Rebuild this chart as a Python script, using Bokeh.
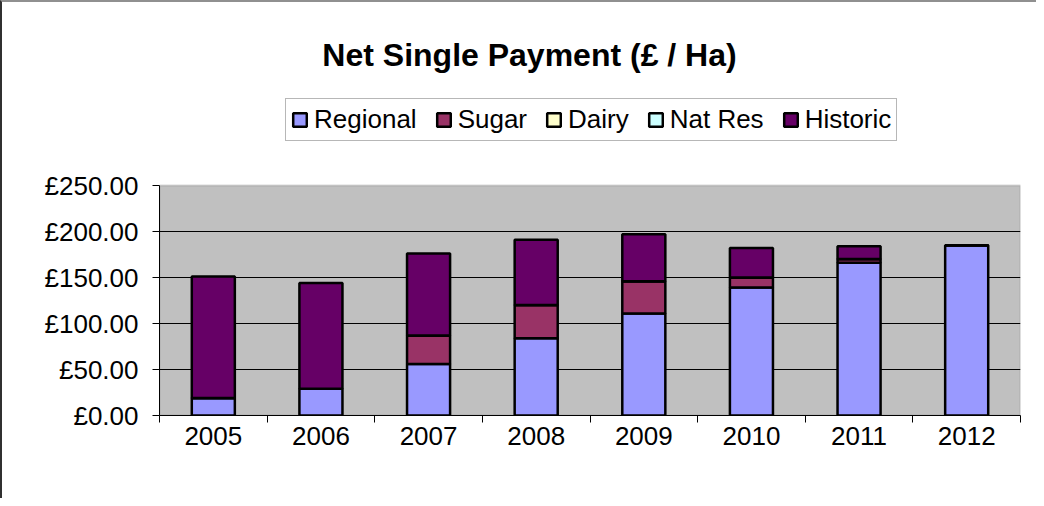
from bokeh.plotting import figure
from bokeh.models import (ColumnDataSource, FixedTicker, PrintfTickFormatter,
                          Range1d, Label, Legend, BoxAnnotation)
from bokeh.embed import file_html
from bokeh.resources import INLINE

years = ["2005", "2006", "2007", "2008", "2009", "2010", "2011", "2012"]
regional = [19, 29, 56, 84, 111, 139, 166, 185]
sugar = [0, 0, 31, 36, 35, 11, 4, 0]
dairy = [0, 0, 0, 0, 0, 0, 0, 0]
nat_res = [0, 0, 0, 0, 0, 0, 0, 0]
historic = [132, 115, 89, 71, 51, 32, 14, 0]
y_ticks = [0, 50, 100, 150, 200, 250]

series = ["Regional", "Sugar", "Dairy", "Nat Res", "Historic"]
colors = ["#9999FF", "#993366", "#FFFFCC", "#CCFFFF", "#660066"]

centers = [i + 0.5 for i in range(len(years))]
bounds = list(range(len(years) + 1))
y_max = y_ticks[-1]

src = ColumnDataSource(dict(x=centers, Regional=regional, Sugar=sugar,
                            Dairy=dairy, **{"Nat Res": nat_res}, Historic=historic))

FONT = "Liberation Sans"

# plot-area: 230 px for 250 units; frame extends up to canvas top (413 px tall)
FRAME_H = 413
y_top = y_max * FRAME_H / 230.0

p = figure(width=1036, height=498, output_backend="svg", toolbar_location=None,
           x_range=Range1d(0, len(years)), y_range=Range1d(0, y_top),
           min_border_left=157, min_border_right=18, min_border_top=0,
           min_border_bottom=498 - FRAME_H, background_fill_color="white",
           border_fill_color="white", title=None)
p.styles = {"border-left": "2px solid #303030", "border-top": "2px solid #909090"}
p.outline_line_color = None

# grey plot area
area = BoxAnnotation(bottom=0, top=y_max, fill_color="#C0C0C0", fill_alpha=1,
                     line_color="#808080", line_width=2, level="image")
p.add_layout(area)

renderers = p.vbar_stack(series, x="x", width=0.4, source=src, color=colors,
                         line_color="black", line_width=2.5)

# axes
xa = p.xaxis[0]
xa.ticker = FixedTicker(ticks=centers, minor_ticks=bounds)
xa.major_label_overrides = {c: y for c, y in zip(centers, years)}
xa.major_tick_out = 0
xa.major_tick_in = 0
xa.minor_tick_out = 7
xa.minor_tick_in = 0
xa.minor_tick_line_color = "black"
xa.axis_line_color = "black"
xa.major_label_text_font = FONT
xa.major_label_text_font_size = "26px"
xa.major_label_text_color = "black"
xa.major_label_standoff = 4

ya = p.yaxis[0]
ya.ticker = FixedTicker(ticks=y_ticks)
ya.bounds = (0, y_max)
ya.formatter = PrintfTickFormatter(format="£%.2f")
ya.major_tick_out = 7
ya.major_tick_in = 0
ya.minor_tick_out = 0
ya.minor_tick_in = 0
ya.major_tick_line_color = "black"
ya.axis_line_color = "black"
ya.major_label_text_font = FONT
ya.major_label_text_font_size = "26px"
ya.major_label_text_color = "black"
ya.major_label_standoff = 14

p.xgrid.visible = False
p.ygrid.ticker = FixedTicker(ticks=y_ticks[1:-1])
p.ygrid.grid_line_color = "black"
p.ygrid.grid_line_width = 1

# legend
legend = Legend(items=[(s, [r]) for s, r in zip(series, renderers)],
                orientation="horizontal", location=(126, 274),
                label_text_font=FONT, label_text_font_size="26px",
                label_text_color="black",
                label_standoff=6, spacing=18, padding=5, margin=0,
                glyph_width=17, glyph_height=17,
                border_line_color="#707070", border_line_width=1,
                background_fill_color="white", background_fill_alpha=1)
p.add_layout(legend)

# title
title = Label(x=3.438, y=391.8, text="Net Single Payment (£ / Ha)",
              text_font=FONT, text_font_size="32px", text_font_style="bold",
              text_align="center", text_baseline="alphabetic", text_color="black")
p.add_layout(title)

open("out.html", "w").write(file_html(p, INLINE))
